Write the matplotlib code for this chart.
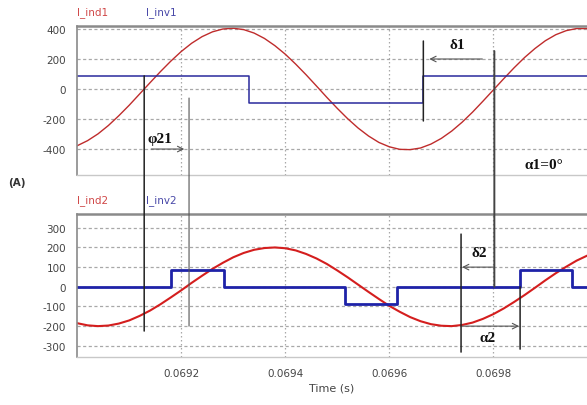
import numpy as np
import matplotlib
matplotlib.use("Agg")
import matplotlib.pyplot as plt
from matplotlib.patches import ConnectionPatch

plt.rcParams["axes.unicode_minus"] = False

# sample times (s) for the two inductor currents
t_sin = np.linspace(0.069, 0.06998, 50)

# I_ind1 (A)
i_ind1 = [-378, -344, -299, -243, -178, -108, -33, 42, 116, 186,
          250, 305, 349, 381, 400, 405, 396, 373, 337, 289,
          232, 166, 95, 20, -56, -129, -198, -260, -313, -356,
          -385, -402, -404, -393, -367, -329, -280, -221, -154, -81,
          -6, 69, 142, 210, 270, 322, 362, 389, 403, 403]

# I_ind2 (A)
i_ind2 = [-185, -196, -200, -197, -187, -171, -148, -121, -89, -54,
          -18, 20, 56, 91, 122, 150, 172, 188, 197, 200,
          196, 185, 167, 144, 116, 83, 48, 11, -26, -62,
          -97, -127, -154, -175, -190, -198, -200, -194, -182, -163,
          -139, -110, -77, -42, -5, 33, 69, 102, 133, 158]

# inverter currents (step switching instants and levels)
inv1_t = [0.069, 0.0693308, 0.0696654, 0.06998]
inv1_v = [88, -90, 88, 88]
inv2_t = [0.069, 0.0691808, 0.0692827, 0.0695154, 0.0696148, 0.0698514, 0.0699519, 0.06998]
inv2_v = [0, 86, 0, -88, 0, 86, 0, 0]

x_ticks = [0.0692, 0.0694, 0.0696, 0.0698]
x_tick_labels = ["0.0692", "0.0694", "0.0696", "0.0698"]
top_yticks = [400, 200, 0, -200, -400]
bot_yticks = [300, 200, 100, 0, -100, -200, -300]

RED = "#bf2c2c"
BLUE = "#2a2a9c"
FRAME = "#8a8a8a"
GRID = "#a8a8a8"

fig = plt.figure(figsize=(5.87, 4.06), dpi=100)
ax1 = fig.add_axes([0.1315, 0.5665, 0.8685, 0.367])
ax2 = fig.add_axes([0.1315, 0.1182, 0.8685, 0.3522])


def style(ax, yticks, ylim):
    ax.set_xlim(0.069, 0.06998)
    ax.set_ylim(*ylim)
    ax.set_xticks(x_ticks)
    ax.set_yticks(yticks)
    ax.tick_params(length=0, labelsize=7.5, labelcolor="#444444", pad=8)
    for yv in yticks:
        ax.axhline(yv, color=GRID, lw=0.9, ls=(0, (2.5, 2)), zorder=0)
    for xv in x_ticks:
        ax.axvline(xv, color=GRID, lw=0.9, ls=(0, (1.2, 2)), zorder=0)
    ax.spines["right"].set_visible(False)
    ax.spines["top"].set_color(FRAME)
    ax.spines["top"].set_linewidth(1.8)
    ax.spines["left"].set_color(FRAME)
    ax.spines["left"].set_linewidth(1.2)
    ax.spines["bottom"].set_color("#c8c8c8")
    ax.spines["bottom"].set_linewidth(1.0)


style(ax1, top_yticks, (-573, 420))
style(ax2, bot_yticks, (-357, 370))
ax1.set_xticklabels([])
ax2.set_xticklabels(x_tick_labels)
ax2.set_xlabel("Time (s)", fontsize=8, color="#444444", labelpad=3)

ax1.plot(t_sin, i_ind1, color=RED, lw=1.0)
ax1.plot(inv1_t, inv1_v, color=BLUE, lw=1.1, drawstyle="steps-post")
ax2.plot(t_sin, i_ind2, color="#d41e1e", lw=1.5)
ax2.plot(inv2_t, inv2_v, color="#1e22a8", lw=2.0, drawstyle="steps-post")

# series names above each panel
fig.text(77 / 587, 1 - 13 / 406, "I_ind1", color="#d04848", fontsize=7.5, va="center")
fig.text(146 / 587, 1 - 13 / 406, "I_inv1", color="#4848a8", fontsize=7.5, va="center")
fig.text(77 / 587, 1 - 201 / 406, "I_ind2", color="#d04848", fontsize=7.5, va="center")
fig.text(146 / 587, 1 - 201 / 406, "I_inv2", color="#4848a8", fontsize=7.5, va="center")
fig.text(8 / 587, 1 - 183 / 406, "(A)", fontsize=7.5, fontweight="bold", color="#333333", va="center")


def vline(t, y_top, ax_top, y_bot, ax_bot, color="#222222", lw=1.1):
    con = ConnectionPatch(xyA=(t, y_top), coordsA=ax_top.transData,
                          xyB=(t, y_bot), coordsB=ax_bot.transData,
                          color=color, lw=lw, zorder=5)
    fig.add_artist(con)


def arrow(ax, x0, x1, y):
    ax.annotate("", xy=(x1, y), xytext=(x0, y),
                arrowprops=dict(arrowstyle="->", color="#555555", lw=0.8,
                                shrinkA=0, shrinkB=0), zorder=6)


lab = dict(fontsize=11, fontweight="bold", family="Liberation Serif", color="#111111", zorder=7)

# phase shift between the two bridges
vline(0.0691288, 88, ax1, -225, ax2, color="#222222", lw=1.1)
vline(0.069215, -60, ax1, -200, ax2, color="#555555", lw=0.8)
arrow(ax1, 0.0691423, 0.0692058, -400)
ax1.text(0.0691346, -333, "φ21", va="center", ha="left", **lab)

# delta 1 and alpha 1
vline(0.0696654, 320, ax1, -213, ax1, lw=1.1)
arrow(ax1, 0.0697788, 0.0696769, 200)
ax1.text(0.069731, 300, "δ1", va="center", ha="center", **lab)
vline(0.0698019, 253, ax1, 0, ax2, color="#444444", lw=1.4)
ax1.text(0.069898, -500, "α1=0°", va="center", ha="center", **lab)

# delta 2 and alpha 2
vline(0.0697379, 268, ax2, -332, ax2, lw=1.1)
arrow(ax2, 0.0698019, 0.0697398, 100)
ax2.text(0.0697731, 176, "δ2", va="center", ha="center", **lab)
vline(0.0698514, 0, ax2, -317, ax2, lw=1.1)
arrow(ax2, 0.069741, 0.0698495, -200)
ax2.text(0.0697885, -256, "α2", va="center", ha="center", **lab)

fig.savefig("out.png", dpi=100)
